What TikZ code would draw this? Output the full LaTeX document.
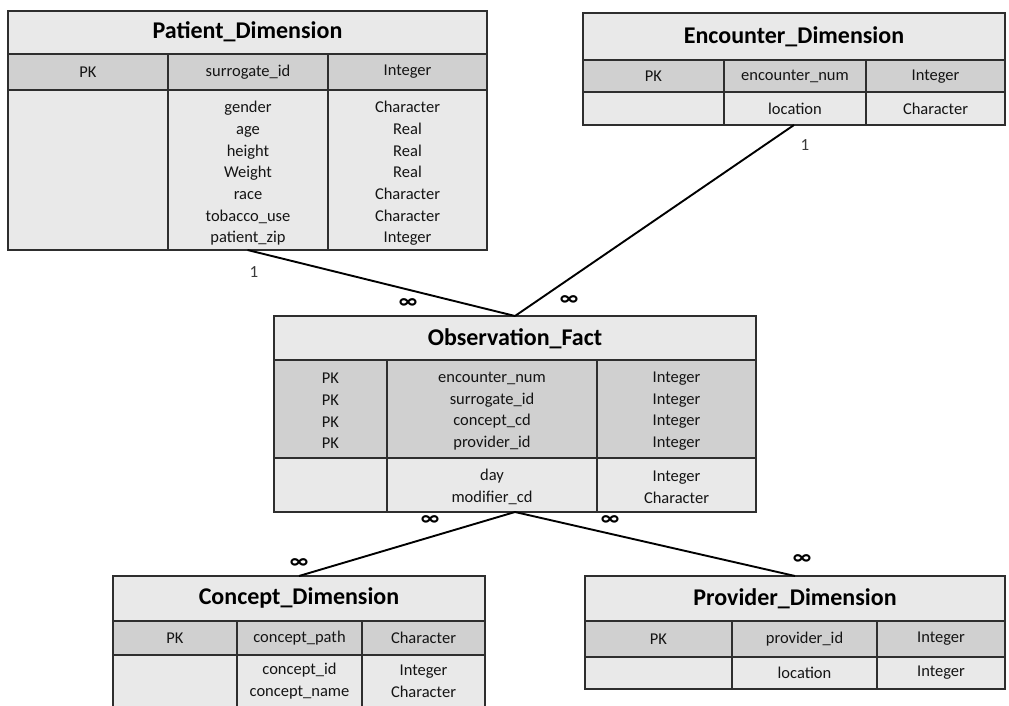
\documentclass[tikz,border=0pt]{standalone}
\usepackage{fontspec}
\setmainfont{Carlito}
\definecolor{lightfill}{HTML}{E9E9E9}
\definecolor{pkfill}{HTML}{D0D0D0}
\definecolor{bord}{HTML}{2E2E2E}
\definecolor{txt}{HTML}{141414}
\definecolor{lab}{HTML}{3A3A3A}
\tikzset{
  lf/.style={fill=lightfill},
  pf/.style={fill=pkfill},
  grid/.style={draw=bord, line width=1.5pt},
  tbl/.style={draw=bord, line width=1.5pt, inner sep=0pt, outer sep=0pt, shape=rectangle},
  cell/.style={font=\fontsize{16.5}{21.7}\selectfont, align=center, inner sep=0pt, text=txt},
  ttl/.style={font=\bfseries\fontsize{24}{28}\selectfont, inner sep=0pt, text=black},
  conn/.style={draw=black, line width=1.9pt},
  card/.style={font=\fontsize{17}{19}\selectfont, inner sep=0pt, text=lab},
  inf/.style={font=\bfseries\fontsize{22}{24}\selectfont, inner sep=0pt, text=black}
}
\begin{document}
\begin{tikzpicture}[x=1pt,y=-1pt]
\useasboundingbox (0,0) rectangle (1009,706);
\fill[white] (0,0) rectangle (1009,706);

% ---------- Patient_Dimension ----------
\fill[lf] (8,11) rectangle (487,54);
\fill[pf] (8,54) rectangle (487,90);
\fill[lf] (8,90) rectangle (487,250);
\draw[grid] (8,54) -- (487,54) (8,90) -- (487,90) (168,54) -- (168,250) (328,54) -- (328,250);
\node[tbl, minimum width=479pt, minimum height=239pt] (pat) at (247.5,130.5) {};
\node[ttl] (patT) at (247.5,32) {Patient\_Dimension};
\node[cell] (patK) at (88,72) {PK};
\node[cell] (patA) at (248,72) {surrogate\_id};
\node[cell] (patB) at (407.5,72) {Integer};
\node[cell] (patC) at (248,173.5) {gender\\age\\height\\Weight\\race\\tobacco\_use\\patient\_zip};
\node[cell] (patD) at (407.5,173.5) {Character\\Real\\Real\\Real\\Character\\Character\\Integer};

% ---------- Encounter_Dimension ----------
\fill[lf] (583,13) rectangle (1005,60);
\fill[pf] (583,60) rectangle (1005,92);
\fill[lf] (583,92) rectangle (1005,125);
\draw[grid] (583,60) -- (1005,60) (583,92) -- (1005,92) (724,60) -- (724,125) (866,60) -- (866,125);
\node[tbl, minimum width=422pt, minimum height=112pt] (enc) at (794,69) {};
\node[ttl] (encT) at (794,37) {Encounter\_Dimension};
\node[cell] (encK) at (653.5,76.5) {PK};
\node[cell] (encA) at (795,76.5) {encounter\_num};
\node[cell] (encB) at (935.5,76.5) {Integer};
\node[cell] (encC) at (795,109) {location};
\node[cell] (encD) at (935.5,109) {Character};

% ---------- Observation_Fact ----------
\fill[lf] (274,316) rectangle (756,360);
\fill[pf] (274,360) rectangle (756,458);
\fill[lf] (274,458) rectangle (756,512);
\draw[grid] (274,360) -- (756,360) (274,458) -- (756,458) (387,360) -- (387,512) (597,360) -- (597,512);
\node[tbl, minimum width=482pt, minimum height=196pt] (obs) at (515,414) {};
\node[ttl] (obsT) at (515,339) {Observation\_Fact};
\node[cell] (obsK) at (330.5,411) {PK\\PK\\PK\\PK};
\node[cell] (obsA) at (492,411) {encounter\_num\\surrogate\_id\\concept\_cd\\provider\_id};
\node[cell] (obsB) at (676.5,411) {Integer\\Integer\\Integer\\Integer};
\node[cell] (obsC) at (492,487) {day\\modifier\_cd};
\node[cell] (obsD) at (676.5,487) {Integer\\Character};

% ---------- Concept_Dimension ----------
\fill[lf] (113,576) rectangle (485,621);
\fill[pf] (113,621) rectangle (485,655);
\fill[lf] (113,655) rectangle (485,730);
\draw[grid] (113,621) -- (485,621) (113,655) -- (485,655) (237,621) -- (237,730) (362,621) -- (362,730);
\node[tbl, minimum width=372pt, minimum height=154pt] (con) at (299,653) {};
\node[ttl] (conT) at (299,598) {Concept\_Dimension};
\node[cell] (conK) at (175,638) {PK};
\node[cell] (conA) at (299.5,638) {concept\_path};
\node[cell] (conB) at (423.5,638) {Character};
\node[cell] (conC) at (299.5,681) {concept\_id\\concept\_name};
\node[cell] (conD) at (423.5,681) {Integer\\Character};

% ---------- Provider_Dimension ----------
\fill[lf] (585,576) rectangle (1005,621);
\fill[pf] (585,621) rectangle (1005,657);
\fill[lf] (585,657) rectangle (1005,689);
\draw[grid] (585,621) -- (1005,621) (585,657) -- (1005,657) (732,621) -- (732,689) (877,621) -- (877,689);
\node[tbl, minimum width=420pt, minimum height=113pt] (pro) at (795,632.5) {};
\node[ttl] (proT) at (795,599) {Provider\_Dimension};
\node[cell] (proK) at (658.5,639) {PK};
\node[cell] (proA) at (804.5,639) {provider\_id};
\node[cell] (proB) at (941,639) {Integer};
\node[cell] (proC) at (804.5,673) {location};
\node[cell] (proD) at (941,673) {Integer};

% ---------- connectors ----------
\draw[conn] (pat.south) -- (obs.north);
\draw[conn] (enc.south) -- (obs.north);
\draw[conn] (obs.south) -- (con.north);
\draw[conn] (obs.south) -- (pro.north);

% ---------- cardinalities ----------
\node[card] (c1) at (254,272) {1};
\node[card] (c2) at (805,145) {1};
\node[inf] (i1) at (408,304) {∞};
\node[inf] (i2) at (569,301) {∞};
\node[inf] (i3) at (430,521) {∞};
\node[inf] (i4) at (610,521) {∞};
\node[inf] (i5) at (299,564) {∞};
\node[inf] (i6) at (802,560) {∞};
\end{tikzpicture}
\end{document}
